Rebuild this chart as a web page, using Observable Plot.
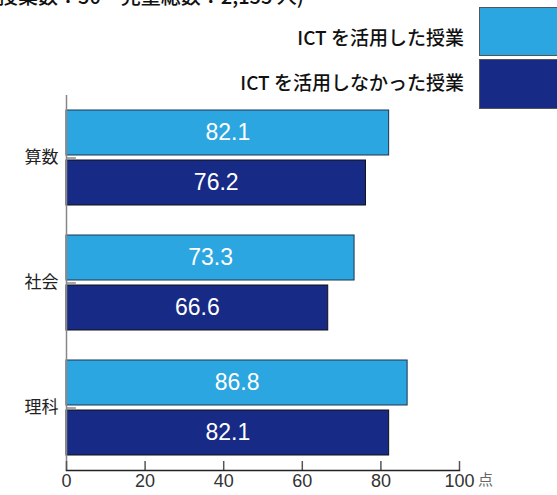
<!DOCTYPE html>
<html><head><meta charset="utf-8">
<script src="https://cdn.jsdelivr.net/npm/d3@7"></script>
<script src="https://cdn.jsdelivr.net/npm/@observablehq/plot@0.6"></script>
<style>
body{margin:0;background:#fff;}
#wrap{position:relative;width:557px;height:495px;overflow:hidden;font-family:"Noto Sans CJK JP","Noto Sans",sans-serif;}
#chart{position:absolute;left:0;top:0;}
.note{position:absolute;left:-22px;top:-14px;font-size:20px;color:#111;white-space:nowrap;line-height:1;font-weight:500;}
.leg{position:absolute;right:93px;font-size:19px;color:#111;white-space:nowrap;line-height:1;font-weight:500;}
.sw{position:absolute;left:479px;width:90px;box-sizing:border-box;border:1px solid #555;}
</style></head>
<body>
<div id="wrap">
  <div id="chart"></div>
  <div class="note" id="note"></div>
  <div class="leg" id="leg0" style="top:27px"></div>
  <div class="leg" id="leg1" style="top:72px"></div>
  <div class="sw" id="sw0" style="top:7px;height:49px"></div>
  <div class="sw" id="sw1" style="top:59px;height:50px"></div>
</div>
<script>
const subjects = ["算数", "社会", "理科"];
const withICT = [82.1, 73.3, 86.8];
const withoutICT = [76.2, 66.6, 82.1];
const seriesNames = ["ICT を活用した授業", "ICT を活用しなかった授業"];
const xTicks = [0, 20, 40, 60, 80, 100];
const unitLabel = "点";
const noteText = "（授業数：50　児童総数：2,155 人)";
const colors = ["#2ba6e0", "#172a86"];

const rows = subjects.map((s, i) => ({subject: s, a: withICT[i], b: withoutICT[i]}));

document.getElementById("note").textContent = noteText;
document.getElementById("leg0").textContent = seriesNames[0];
document.getElementById("leg1").textContent = seriesNames[1];
document.getElementById("sw0").style.background = colors[0];
document.getElementById("sw1").style.background = colors[1];

const chart = Plot.plot({
  width: 557, height: 495,
  marginLeft: 66, marginRight: 98, marginTop: 95, marginBottom: 25,
  style: {fontFamily: '"Noto Sans CJK JP","Liberation Sans",sans-serif', background: "transparent"},
  x: {domain: [0, 100], ticks: xTicks},
  y: {domain: subjects, paddingInner: 0.24, paddingOuter: 0.12},
  marks: [
    Plot.barX(rows, {y: "subject", x: "a", fill: colors[0], stroke: "#1d3550", strokeWidth: 1, insetBottom: 50}),
    Plot.barX(rows, {y: "subject", x: "b", fill: colors[1], stroke: "#111", strokeWidth: 1, insetTop: 50}),
    Plot.text(rows, {y: "subject", x: d => d.a / 2, text: d => d.a.toFixed(1), dy: -25, fill: "white", fontSize: 23, fontFamily: '"Liberation Sans",sans-serif'}),
    Plot.text(rows, {y: "subject", x: d => d.b / 2, text: d => d.b.toFixed(1), dy: 25, fill: "white", fontSize: 23, fontFamily: '"Liberation Sans",sans-serif'}),
    Plot.ruleX([0], {stroke: "#888", strokeWidth: 1.5}),
    Plot.ruleY(subjects, {y: d => d, x1: 0, x2: 2.5, stroke: "#888", strokeWidth: 1.5}),
    Plot.tickX(xTicks, {x: d => d, insetTop: 366, stroke: "#555", strokeWidth: 1.5}),
    Plot.frame({anchor: "bottom", stroke: "#222", strokeWidth: 1.5}),
    Plot.axisX({tickSize: 0, tickPadding: 4, fontSize: 18, fill: "#333", label: null, fontFamily: '"Liberation Sans",sans-serif'}),
    Plot.axisY({tickSize: 0, tickPadding: 8, fontSize: 17, fill: "#222", label: null}),
    Plot.text([{u: unitLabel, v: 100}], {x: "v", text: "u", frameAnchor: "bottom", dx: 26, dy: 14, fill: "#666", fontSize: 15})
  ]
});
document.getElementById("chart").appendChild(chart);
</script>
</body></html>
